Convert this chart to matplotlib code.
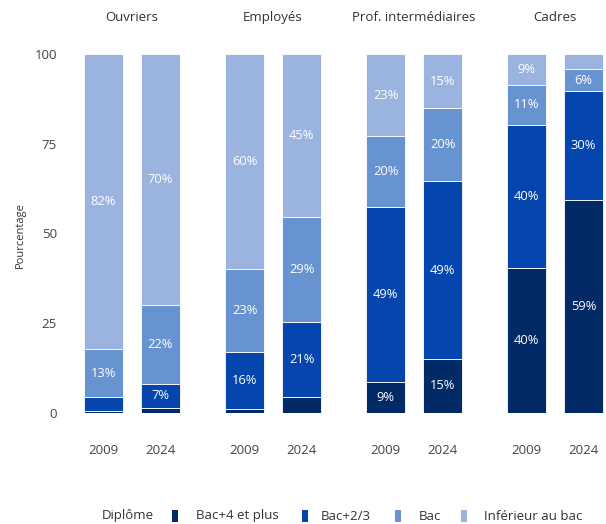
import numpy as np
import matplotlib
matplotlib.use("Agg")
import matplotlib.pyplot as plt
from matplotlib.patches import Rectangle

plt.rcParams['font.family'] = ['Open Sans', 'DejaVu Sans']

# donnees (pourcentages)
categories = ["Ouvriers", "Employés", "Prof. intermédiaires", "Cadres"]
annees = ["2009", "2024"]
diplomes = ["Bac+4 et plus", "Bac+2/3", "Bac", "Inférieur au bac"]
couleurs = ["#012a66", "#0546ae", "#6793d0", "#9ab4df"]

bac4 = [0.6, 1.4, 1.1, 4.5, 8.6, 15.1, 40.4, 59.3]
bac23 = [3.8, 6.8, 15.8, 20.8, 48.9, 49.4, 39.8, 30.3]
bac = [13.3, 22.0, 23.1, 29.4, 19.6, 20.4, 11.2, 6.3]
inf_bac = [82.3, 69.8, 60.0, 45.3, 22.9, 15.1, 8.6, 4.1]
series = [bac4, bac23, bac, inf_bac]

texte = "#333333"
W, H = 606, 524

fig = plt.figure(figsize=(W/100, H/100), dpi=100)
ax = fig.add_axes([75/W, 111/H, 531/W, 359/H])

ecart = 2.474  # espace entre groupes
x = np.array([g*ecart + j for g in range(len(categories)) for j in range(len(annees))])

bas = np.zeros(len(x))
for vals, c in zip(series, couleurs):
    vals = np.array(vals)
    ax.bar(x, vals, width=0.684, bottom=bas, color=c, edgecolor="white", linewidth=0.6)
    for xi, b, v in zip(x, bas, vals):
        if v >= 5:
            ax.text(xi, b + v/2, f"{round(v)}%", ha="center", va="center",
                    color="white", fontsize=9.3)
    bas += vals

ax.set_ylim(0, 100)
ax.set_xlim(-0.5, 8.816)
ax.set_yticks([0, 25, 50, 75, 100])
ax.set_xticks(x)
ax.set_xticklabels(annees * len(categories))
ax.tick_params(axis="y", length=0, pad=13, labelsize=9.5, labelcolor="#444444")
ax.tick_params(axis="x", length=0, pad=22, labelsize=9.5, labelcolor="#444444")
for s in ax.spines.values():
    s.set_visible(False)

for g, cat in enumerate(categories):
    ax.text(g*ecart + 0.5, 1.103, cat, transform=ax.get_xaxis_transform(),
            ha="center", va="center", fontsize=9.5, color=texte)

fig.text(20/W, 1 - 235/H, "Pourcentage", rotation=90, ha="center", va="center",
         fontsize=8, color=texte)

# legende (placee a la main)
ly = 1 - 516/H
fig.text(102/W, ly, "Diplôme", ha="left", va="center", fontsize=9.5, color=texte)
pos_marque = [172, 302, 395, 461]
pos_texte = [196, 321, 419, 484]
for d, c, pm, pt in zip(diplomes, couleurs, pos_marque, pos_texte):
    fig.add_artist(Rectangle((pm/W, (H - 522)/H), 6/W, 12/H, transform=fig.transFigure,
                             facecolor=c, edgecolor="none"))
    fig.text(pt/W, ly, d, ha="left", va="center", fontsize=9.5, color=texte)

plt.savefig("out.png", dpi=100)
